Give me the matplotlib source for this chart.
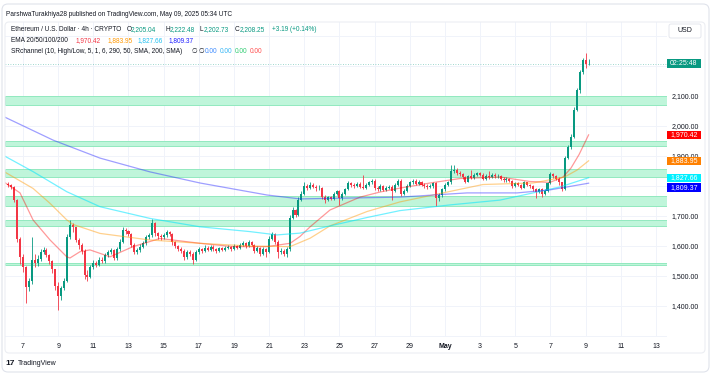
import matplotlib.pyplot as plt
from matplotlib.patches import Rectangle, FancyBboxPatch
from matplotlib.transforms import blended_transform_factory, IdentityTransform

plt.rcParams['font.family'] = ['Liberation Sans', 'DejaVu Sans']

W, H = 711, 375

# ETH/USD 4h candles, Apr 6 04:00 UTC -> May 9 04:00 UTC
first_open = 1808.0
closes = [
    1805, 1798, 1755, 1625, 1565,                 # Apr 6
    1530, 1462, 1482, 1553, 1545, 1556,           # Apr 7
    1580, 1586, 1570, 1550, 1522, 1468,
    1432, 1460, 1485, 1630, 1670, 1662,
    1620, 1602, 1585, 1505, 1498, 1530,           # Apr 10
    1545, 1538, 1555, 1550, 1570, 1580,
    1586, 1560, 1590, 1615, 1655, 1650,
    1640, 1605, 1580, 1586, 1598, 1610,
    1630, 1636, 1677, 1642, 1632, 1630,           # Apr 14
    1636, 1646, 1640, 1612, 1600, 1590,
    1585, 1563, 1580, 1575, 1555, 1580,
    1590, 1585, 1595, 1588, 1597, 1590,
    1585, 1592, 1588, 1595, 1598, 1590,           # Apr 18
    1600, 1595, 1605, 1610, 1600, 1612,
    1605, 1585, 1595, 1575, 1590, 1580,
    1625, 1640, 1615, 1580, 1585, 1575,
    1590, 1695, 1720, 1705, 1755, 1775,           # Apr 22
    1800, 1795, 1805, 1798, 1792, 1795,
    1765, 1755, 1762, 1758, 1775, 1782,
    1760, 1775, 1790, 1810, 1805, 1800,
    1808, 1798, 1795, 1805, 1812, 1818,           # Apr 26
    1795, 1790, 1800, 1788, 1795, 1797,
    1785, 1805, 1818, 1775, 1785, 1800,
    1812, 1818, 1808, 1815, 1805, 1800,
    1797, 1800, 1810, 1760, 1770, 1790,           # Apr 30
    1805, 1812, 1850, 1855, 1845, 1840,           # May 1
    1830, 1815, 1833, 1828, 1838, 1842,
    1838, 1825, 1835, 1830, 1838, 1832,
    1835, 1825, 1820, 1825, 1818, 1800,           # May 4
    1810, 1805, 1795, 1812, 1805, 1800,
    1790, 1780, 1790, 1775, 1785, 1810,
    1840, 1835, 1825, 1812, 1790, 1895,           # May 7
    1930, 1965, 2055, 2120, 2180, 2220,
    2205.04, 2208.25,                             # May 9
]
highs = [
    1815, 1808, 1800, 1758, 1630,
    1575, 1535, 1495, 1630, 1575, 1570,
    1590, 1598, 1592, 1575, 1555, 1525,
    1480, 1468, 1492, 1640, 1687, 1678,
    1665, 1628, 1610, 1590, 1520, 1538,
    1552, 1550, 1562, 1565, 1578, 1588,
    1592, 1590, 1598, 1622, 1665, 1660,
    1655, 1645, 1610, 1595, 1606, 1618,
    1636, 1645, 1690, 1680, 1648, 1640,
    1645, 1652, 1650, 1645, 1618, 1605,
    1598, 1590, 1586, 1588, 1580, 1586,
    1596, 1595, 1602, 1600, 1604, 1602,
    1594, 1598, 1596, 1600, 1604, 1600,
    1606, 1604, 1610, 1618, 1612, 1620,
    1616, 1608, 1600, 1598, 1596, 1594,
    1632, 1648, 1645, 1620, 1592, 1590,
    1596, 1705, 1730, 1725, 1762, 1785,
    1815, 1808, 1815, 1810, 1802, 1802,
    1798, 1770, 1768, 1766, 1780, 1788,
    1786, 1780, 1795, 1816, 1815, 1810,
    1814, 1812, 1837, 1810, 1818, 1824,
    1822, 1800, 1806, 1804, 1800, 1804,
    1802, 1810, 1825, 1822, 1790, 1806,
    1818, 1825, 1822, 1820, 1818, 1810,
    1806, 1806, 1815, 1814, 1778, 1795,
    1810, 1818, 1870, 1870, 1860, 1850,
    1845, 1835, 1838, 1855, 1842, 1848,
    1846, 1842, 1840, 1850, 1842, 1842,
    1840, 1838, 1830, 1830, 1828, 1820,
    1815, 1815, 1808, 1818, 1815, 1808,
    1804, 1795, 1795, 1794, 1790, 1815,
    1848, 1845, 1838, 1830, 1815, 1900,
    1938, 1972, 2062, 2128, 2186, 2228,
    2245, 2222.48,
]
lows = [
    1798, 1790, 1748, 1615, 1540,
    1515, 1411, 1450, 1475, 1530, 1535,
    1550, 1572, 1562, 1540, 1510, 1455,
    1387, 1420, 1452, 1480, 1622, 1648,
    1612, 1590, 1575, 1490, 1485, 1492,
    1525, 1530, 1533, 1542, 1545, 1565,
    1574, 1552, 1555, 1585, 1610, 1640,
    1632, 1598, 1572, 1575, 1580, 1592,
    1605, 1624, 1630, 1635, 1625, 1620,
    1625, 1630, 1632, 1605, 1592, 1582,
    1576, 1555, 1558, 1568, 1540, 1550,
    1575, 1578, 1580, 1582, 1584, 1585,
    1578, 1580, 1583, 1585, 1590, 1585,
    1586, 1590, 1590, 1600, 1594, 1596,
    1600, 1578, 1580, 1568, 1570, 1565,
    1576, 1620, 1608, 1560, 1574, 1566,
    1562, 1585, 1690, 1698, 1700, 1750,
    1770, 1788, 1790, 1792, 1785, 1786,
    1758, 1745, 1750, 1752, 1754, 1770,
    1737, 1755, 1770, 1786, 1798, 1794,
    1796, 1792, 1790, 1790, 1800, 1808,
    1788, 1782, 1785, 1782, 1784, 1790,
    1753, 1780, 1800, 1768, 1770, 1780,
    1796, 1806, 1802, 1802, 1800, 1794,
    1790, 1792, 1795, 1732, 1750, 1765,
    1785, 1800, 1808, 1845, 1838, 1832,
    1825, 1810, 1812, 1822, 1824, 1832,
    1832, 1820, 1820, 1825, 1826, 1826,
    1826, 1820, 1815, 1815, 1812, 1795,
    1796, 1800, 1790, 1792, 1800, 1794,
    1785, 1760, 1776, 1765, 1770, 1780,
    1806, 1828, 1820, 1805, 1782, 1786,
    1890, 1925, 1960, 2050, 2110, 2175,
    2195, 2202.73,
]

# EMA traces (days since Apr 7 00:00 UTC)
ema20_t = [-1.05, -0.17, 0.57, 1.54, 2.49, 2.67, 3.24, 3.81, 4.95, 6.26, 7.79,
           8.53, 10.07, 11.94, 13.88, 15.19, 15.76, 16.33, 17.46, 19.17, 20.31,
           21.44, 23.15, 24.86, 27.13, 28.84, 29.97, 30.72, 31.17, 31.63, 32.17]
ema20_v = [1812, 1777, 1687, 1620, 1564, 1560, 1581, 1587, 1564, 1598, 1625,
           1620, 1609, 1598, 1598, 1609, 1632, 1664, 1720, 1763, 1780,
           1793, 1810, 1825, 1830, 1815, 1812, 1830, 1860, 1905, 1970.42]
ema50_t = [-1.05, 0.57, 1.54, 2.49, 2.84, 4.38, 7.22, 10.07, 12.91, 15.19, 16.33,
           17.46, 19.57, 21.44, 23.32, 26.16, 29.01, 30.80, 31.51, 32.17]
ema50_v = [1847, 1792, 1742, 1687, 1672, 1642, 1620, 1609, 1600, 1598, 1626,
           1667, 1715, 1747, 1770, 1805, 1810, 1830, 1853, 1883.95]
ema100_t = [-1.05, 0.57, 2.49, 4.38, 7.22, 10.07, 12.91, 14.45, 15.76, 17.46,
            19.57, 21.44, 24.29, 27.13, 29.01, 30.55, 32.17]
ema100_v = [1900, 1848, 1781, 1731, 1692, 1664, 1648, 1637, 1643, 1667,
            1695, 1718, 1737, 1753, 1777, 1797, 1827.66]
ema200_t = [-1.05, 1.71, 4.38, 7.23, 10.07, 13.88, 15.76, 18.60, 21.44, 25.25,
            28.10, 29.97, 32.17]
ema200_v = [2030, 1953, 1893, 1847, 1810, 1770, 1757, 1760, 1763, 1777,
            1777, 1787, 1809.37]

# SRchannel zones (low, high)
zones = [(2070, 2100), (1933, 1951), (1830, 1857), (1733, 1767),
         (1667, 1687), (1538, 1542)]

date_ticks = list(range(0, 37, 2))
date_labels = ['7', '9', '11', '13', '15', '17', '19', '21', '23', '25', '27',
               '29', 'May', '3', '5', '7', '9', '11', '13']
price_ticks = list(range(1300, 2301, 100))
shown_prices = list(range(1400, 2101, 100))

last_price = 2208.25
UP, DOWN = '#089981', '#f23645'

fig = plt.figure(figsize=(W / 100, H / 100), dpi=100)
ax = fig.add_axes([5 / W, 1 - 337 / H, 662 / W, 315 / H])
ax.set_xlim(-1.024, 36.63)
ax.set_ylim(1296.7, 2346.7)
for s in ax.spines.values():
    s.set_visible(False)

ax.set_xticks(date_ticks, date_labels)
ax.set_yticks(price_ticks, [f'{p:,.2f}' if p in shown_prices else '' for p in price_ticks])
ax.yaxis.tick_right()
ax.tick_params(axis='both', length=0, labelsize=5, labelcolor='#131722')
ax.tick_params(axis='y', pad=3.4)
ax.tick_params(axis='x', pad=4)
for lbl in ax.get_xticklabels():
    if lbl.get_text() == 'May':
        lbl.set_fontweight('bold')
ax.grid(color='#f0f3fa', lw=0.7)
ax.set_axisbelow(True)

for lo, hi in zones:
    ax.axhspan(lo, hi, fc='#bff5da', ec='#86e7b8', lw=0.6, zorder=1)

# candles
times = [-5 / 6 + i / 6 for i in range(len(closes))]
opens = [first_open] + closes[:-1]
colors = [UP if c >= o else DOWN for o, c in zip(opens, closes)]
bottoms = [min(o, c) for o, c in zip(opens, closes)]
heights = [max(abs(c - o), 2.5) for o, c in zip(opens, closes)]
ax.vlines(times, lows, highs, colors=colors, lw=0.6, zorder=3)
ax.bar(times, heights, width=0.115, bottom=bottoms, color=colors, lw=0, zorder=4)

ax.plot(ema20_t, ema20_v, color='#ff0000', lw=0.9, alpha=0.4, zorder=5)
ax.plot(ema50_t, ema50_v, color='#ff9800', lw=0.9, alpha=0.45, zorder=5)
ax.plot(ema100_t, ema100_v, color='#00e5ff', lw=0.9, alpha=0.55, zorder=5)
ax.plot(ema200_t, ema200_v, color='#2a2aff', lw=0.9, alpha=0.45, zorder=5)

ax.axhline(last_price, color=UP, lw=0.6, ls=(0, (1, 2)), alpha=0.5, zorder=2)

# price tags on the scale
trans = blended_transform_factory(ax.transAxes, ax.transData)
tags = [(2208.25, '02:25:48', UP), (1970.42, '1,970.42', '#ff0000'),
        (1883.95, '1,883.95', '#ff8000'), (1827.66, '1,827.66', '#00f0ff'),
        (1795.0, '1,809.37', '#0000ff')]
for p, txt, col in tags:
    ax.add_patch(Rectangle((1.0, p - 13.5), 34 / 662, 27, transform=trans,
                           fc=col, ec='none', clip_on=False, zorder=10))
    ax.text(1.0 + 17 / 662, p, txt, transform=trans, color='white', fontsize=5,
            ha='center', va='center', clip_on=False, zorder=11)

# frames
px = IdentityTransform()
fig.patches.append(FancyBboxPatch((2, H - 372), 707, 368, boxstyle='round,pad=0,rounding_size=6',
                                  fc='none', ec='#e0e3eb', lw=0.8, transform=px))
fig.patches.append(FancyBboxPatch((5, H - 353), 700, 331, boxstyle='round,pad=0,rounding_size=4',
                                  fc='none', ec='#eceef3', lw=0.8, transform=px))
fig.patches.append(FancyBboxPatch((669, H - 38), 32, 14, boxstyle='round,pad=0,rounding_size=2',
                                  fc='white', ec='#e0e3eb', lw=0.6, transform=px, zorder=12))


def ftext(x, y, s, color='#131722', size=4.7, **kw):
    fig.text(x / W, 1 - y / H, s, color=color, fontsize=size, ha='left', va='center', **kw)


fig.text(685 / W, 1 - 31 / H, 'USD', fontsize=5, color='#131722', ha='center', va='center', zorder=13)
ftext(6, 15, 'ParshwaTurakhiya28 published on TradingView.com, May 09, 2025 05:34 UTC')

ftext(10.7, 29.3, 'Ethereum / U.S. Dollar · 4h · CRYPTO')
for x, s, c in [(126.7, 'O', '#131722'), (131.0, '2,205.04', UP), (165.7, 'H', '#131722'),
                (170.0, '2,222.48', UP), (200.0, 'L', '#131722'), (203.5, '2,202.73', UP),
                (235.0, 'C', '#131722'), (239.3, '2,208.25', UP), (271.7, '+3.19 (+0.14%)', UP)]:
    ftext(x, 29.3, s, color=c)

ftext(10.7, 40.7, 'EMA 20/50/100/200')
for x, s, c in [(76.0, '1,970.42', '#f23645'), (107.3, '1,883.95', '#ff9800'),
                (137.7, '1,827.66', '#22c0f0'), (169.0, '1,809.37', '#1c1cff')]:
    ftext(x, 40.7, s, color=c)

ftext(10.7, 51.7, 'SRchannel (10, High/Low, 5, 1, 6, 290, 50, SMA, 200, SMA)')
for x, s, c in [(192.0, '∅', '#131722'), (198.5, '∅', '#131722'), (205.0, '0.00', '#3d8bff'),
                (220.0, '0.00', '#33b5f5'), (235.0, '0.00', '#2ecc71'), (250.0, '0.00', '#ff4d4d')]:
    ftext(x, 51.7, s, color=c)

ftext(5, 363.5, '17', size=6, fontweight='bold')
ftext(17.5, 363.5, 'TradingView', size=5)

fig.savefig('out.png', dpi=100)
